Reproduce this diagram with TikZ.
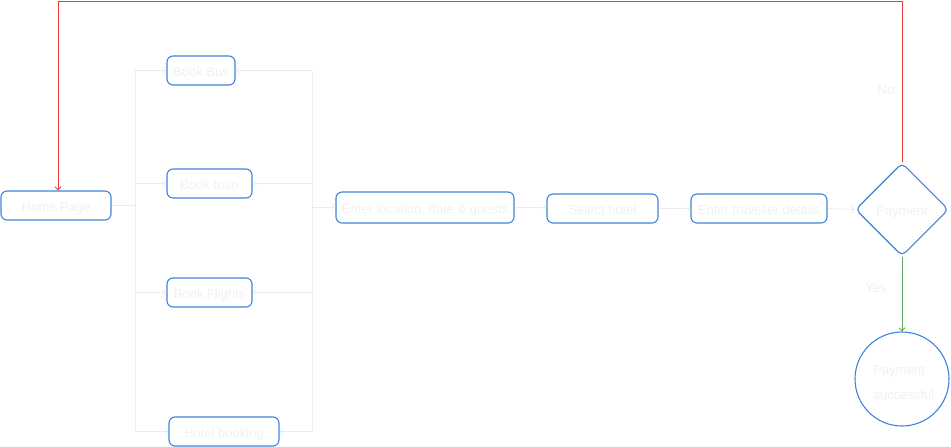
\documentclass[tikz,border=0pt]{standalone}
\usepackage{fontspec}
\setmainfont{Liberation Sans}
\usetikzlibrary{arrows.meta,shapes.geometric}
\definecolor{bblue}{HTML}{3F82DC}
\definecolor{txtc}{HTML}{F0F0F0}
\definecolor{linec}{HTML}{ECECEC}
\definecolor{redl}{HTML}{F0383B}
\definecolor{greenl}{HTML}{5FA85A}
\tikzset{
  x=1pt,y=-1pt,
  every node/.style={font=\fontsize{13}{15}\selectfont, text=txtc},
  stepbox/.style={draw=bblue, line width=1.1pt, rounded corners=6pt, minimum height=29pt, inner sep=0pt, text height=11.5pt, text depth=0pt},
  conn/.style={draw=linec, line width=0.8pt, -{Straight Barb[length=3pt,width=6pt]}},
  plain/.style={draw=linec, line width=0.8pt},
}
\begin{document}
\begin{tikzpicture}
\useasboundingbox (0,0) rectangle (951,447);
\node[stepbox, minimum width=110pt] (home) at (56,205.5) {Home Page};
\node[stepbox, minimum width=68pt] (bus) at (201,70.5) {Book Bus};
\node[stepbox, minimum width=85pt] (train) at (209.5,183.5) {Book train};
\node[stepbox, minimum width=85pt] (flight) at (209.5,292.5) {Book Flights};
\node[stepbox, minimum width=110pt] (hotel) at (224,431.5) {Hotel booking};
\node[stepbox, minimum width=178pt, minimum height=31pt] (enter) at (425,207.5) {Enter location, date \& guests};
\node[stepbox, minimum width=111pt] (sel) at (602.5,208.5) {Select hotel};
\node[stepbox, minimum width=136pt] (trav) at (759,208.5) {Enter traveller details};
\node[draw=bblue, line width=1.1pt, diamond, rounded corners=5pt, minimum width=93pt, minimum height=93pt, inner sep=0pt, text height=11.5pt, text depth=0pt] (pay) at (902,209.5) {Payment};
\node[draw=bblue, line width=1.1pt, circle, minimum size=94pt, inner sep=0pt] (succ) at (902,379) {};
\node[anchor=west, align=left, font=\fontsize{13}{25}\selectfont] (succtxt) at (870,383) {Payment\\ successful};
\coordinate (lt) at (135,70.5);
\coordinate (lb) at (135,431.5);
\coordinate (lm) at (135,205.5);
\coordinate (rt) at (312,70.5);
\coordinate (rb) at (312,431.5);
\coordinate (rm) at (312,207.5);
\draw[plain] (home.east) -- (lm);
\draw[plain] (lt) -- (lb);
\draw[plain] (rt) -- (rb);
\draw[conn] (lt) -- (bus.west);
\draw[conn] (135,183.5) -- (train.west);
\draw[conn] (135,292.5) -- (flight.west);
\draw[conn] (lb) -- (hotel.west);
\draw[conn] (rt) -- (bus.east);
\draw[conn] (312,183.5) -- (train.east);
\draw[conn] (312,292.5) -- (flight.east);
\draw[conn] (rb) -- (hotel.east);
\draw[conn] (rm) -- (enter.west);
\draw[conn] (enter.east) -- (sel.west |- enter.east);
\draw[conn] (sel.east) -- (trav.west);
\draw[conn] (trav.east) -- (pay.west);
\draw[draw=redl, line width=1pt, -{Straight Barb[length=3pt,width=6pt]}] (pay.north) -- (902,1) -- (58,1) -- (home.north -| 58,0);
\draw[draw=greenl, line width=1pt, -{Straight Barb[length=3pt,width=6pt]}] (pay.south) -- (succ.north);
\node at (886,90) {No};
\node at (876,288) {Yes};
\end{tikzpicture}
\end{document}
